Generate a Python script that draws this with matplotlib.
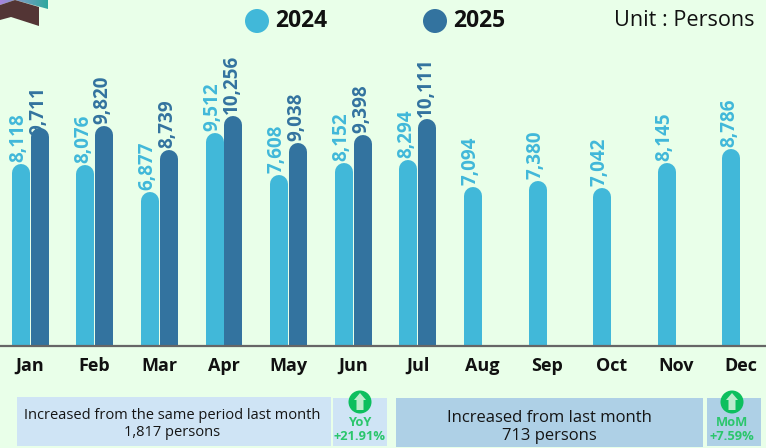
import numpy as np
import matplotlib
matplotlib.use('Agg')
import matplotlib.pyplot as plt
from matplotlib.patches import Rectangle, Polygon, Circle

months = ['Jan', 'Feb', 'Mar', 'Apr', 'May', 'Jun', 'Jul', 'Aug', 'Sep', 'Oct', 'Nov', 'Dec']
v2024 = [8118, 8076, 6877, 9512, 7608, 8152, 8294, 7094, 7380, 7042, 8145, 8786]
v2025 = [9711, 9820, 8739, 10256, 9038, 9398, 10111]

BG = '#E9FFE9'
C24 = '#41B8D9'
C25 = '#33739F'
GREEN = '#2BC66C'
plt.rcParams['font.family'] = ['Open Sans', 'DejaVu Sans']

W, H = 766, 448
fig = plt.figure(figsize=(W / 100, H / 100), dpi=100, facecolor=BG)

# chart axes, full width, baseline at 346px
ax = fig.add_axes([0, 1 - 346 / H, 1, 346 / H], facecolor='none')
per_px_y = 1 / 0.02242
per_px_x = 1 / 64.6
ax.set_xlim(-30 * per_px_x, (W - 30) * per_px_x)
ax.set_ylim(0, 346 * per_px_y)
for s in ['top', 'left', 'right']:
    ax.spines[s].set_visible(False)
ax.spines['bottom'].set_color('#666666')
ax.spines['bottom'].set_linewidth(1.6)
ax.spines['bottom'].set_zorder(5)
ax.set_yticks([])
ax.set_xticks(np.arange(12))
ax.set_xticklabels(months, fontsize=13, fontweight='bold', color='#111111')
ax.tick_params(axis='x', length=0, pad=8)

bar_px = 18
radius = bar_px / 2 * per_px_y


def round_bar(x, val, color):
    # thick line with a round cap gives the pill top, the bottom cap is clipped by the axes
    ax.plot([x, x], [0, val - radius], color=color, lw=bar_px * 0.72,
            solid_capstyle='round', zorder=3)


for i, v in enumerate(v2024):
    x = i - 9.2 * per_px_x
    round_bar(x, v, C24)
    ax.annotate(f'{v:,}', (x, v), xytext=(-2.5, 2), textcoords='offset pixels', rotation=90,
                ha='center', va='bottom', fontsize=13.6, fontweight='bold', color=C24, zorder=2)

for i, v in enumerate(v2025):
    x = i + 9.6 * per_px_x
    round_bar(x, v, C25)
    off = -7 if i == 0 else 2
    ax.annotate(f'{v:,}', (x, v), xytext=(-1.5, off), textcoords='offset pixels', rotation=90,
                ha='center', va='bottom', fontsize=13.6, fontweight='bold', color=C25, zorder=2)

# overlay in pixel coordinates for legend, corner ribbon and the boxes below
ov = fig.add_axes([0, 0, 1, 1], facecolor='none')

grad = np.linspace(0, 1, 64).reshape(1, -1)
cmap = matplotlib.colors.LinearSegmentedColormap.from_list('rib', ['#A884DC', '#6E9FBE', '#2FA89E'])
im = ov.imshow(grad, extent=(0, 48, 10, 0), cmap=cmap, aspect='auto')
ov.set_xlim(0, W)
ov.set_ylim(H, 0)
ov.axis('off')
strip = Polygon([(0, 0), (48, 0), (48, 9), (15, 0), (0, 5)], transform=ov.transData, fc='none', ec='none')
ov.add_patch(strip)
im.set_clip_path(strip)
ov.add_patch(Polygon([(0, 5), (15, 0), (39, 7), (39, 26), (11, 17), (0, 20)], fc='#533535', ec='none'))

ov.add_patch(Circle((257, 21), 12, fc=C24, ec='none'))
ov.add_patch(Circle((435, 21), 12, fc=C25, ec='none'))
ov.text(275, 21, '2024', fontsize=16.5, fontweight='bold', color='#111111', va='center')
ov.text(453, 21, '2025', fontsize=16.5, fontweight='bold', color='#111111', va='center')
ov.text(755, 20, 'Unit : Persons', fontsize=15.6, color='#111111', va='center', ha='right')

boxes = [(17, 397, 314, 49, '#CFE4F5'), (333, 398, 54, 48, '#CFE4F5'),
         (396, 398, 307, 49, '#AED0E6'), (707, 398, 54, 48, '#AED0E6')]
for x, y, w, h, c in boxes:
    ov.add_patch(Rectangle((x, y), w, h, fc=c, ec='none'))

ov.text(172, 424, 'Increased from the same period last month\n1,817 persons', fontsize=10.5,
        color='#151515', ha='center', va='center', linespacing=1.15)
ov.text(549, 427, 'Increased from last month\n713 persons', fontsize=12,
        color='#151515', ha='center', va='center', linespacing=1.12)

for cx, lab, pct in [(360, 'YoY', '+21.91%'), (732, 'MoM', '+7.59%')]:
    ov.add_patch(Circle((cx, 402), 11.5, fc='#0DBF5E', ec='none'))
    ov.add_patch(Polygon([(cx, 393), (cx + 6, 400), (cx + 3.5, 400), (cx + 3.5, 410),
                          (cx - 3.5, 410), (cx - 3.5, 400), (cx - 6, 400)],
                         fc='#BDEBCD', ec='none'))
    ov.text(cx, 423, lab, fontsize=9.3, fontweight='bold', color=GREEN, ha='center', va='center')
    ov.text(cx, 436, pct, fontsize=9.3, fontweight='bold', color=GREEN, ha='center', va='center')

fig.savefig('out.png', dpi=100, facecolor=BG)
